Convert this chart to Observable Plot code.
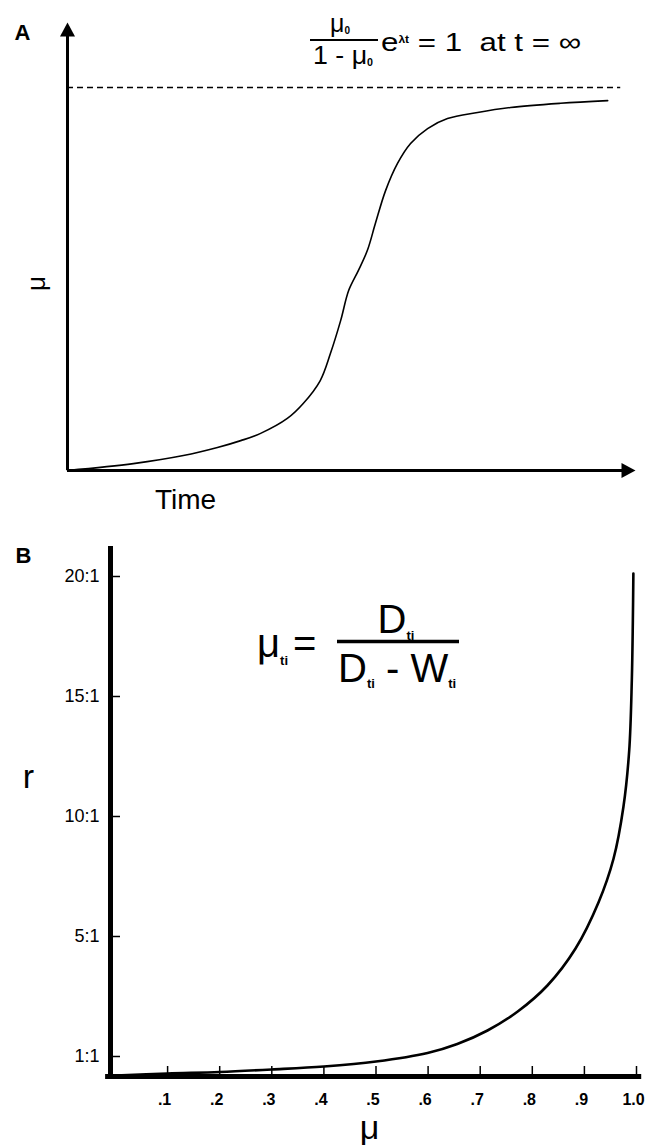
<!DOCTYPE html>
<html><head><meta charset="utf-8">
<script src="https://cdn.jsdelivr.net/npm/d3@7"></script>
<script src="https://cdn.jsdelivr.net/npm/@observablehq/plot@0.6"></script>
<style>
html,body{margin:0;padding:0;background:#fff;}
#chart svg{display:block;}
</style></head><body><div id="chart"></div>
<script>
const FONT = "'Liberation Sans', Arial, Helvetica, sans-serif";
const NS = "http://www.w3.org/2000/svg";

// ---- Panel A: μ versus time (relative units) ----
const timeA = [0, 0.116, 0.204, 0.264, 0.305, 0.340, 0.387, 0.415, 0.445, 0.463, 0.481, 0.495, 0.512, 0.528, 0.542, 0.560, 0.581, 0.604, 0.634, 0.669, 0.722, 0.780, 0.868, 0.951];
const muA   = [0, 0.018, 0.039, 0.060, 0.078, 0.097, 0.136, 0.175, 0.235, 0.306, 0.392, 0.470, 0.522, 0.575, 0.645, 0.731, 0.802, 0.854, 0.893, 0.919, 0.935, 0.948, 0.959, 0.966];
const asymptoteA = 1;
const asymptoteEndA = 0.974;

// ---- Panel B: r versus μ ----
const muB = [0, 0.1, 0.2, 0.3, 0.4, 0.5, 0.599, 0.656, 0.714, 0.772, 0.829, 0.883, 0.927, 0.956, 0.975, 0.986, 0.991, 0.993, 0.994];
const rB  = [0.05, 0.15, 0.225, 0.35, 0.5, 0.75, 1.117, 1.417, 1.867, 2.5, 3.367, 4.6, 6.417, 8.25, 10.417, 12.75, 15.667, 18.167, 20.125];
const xTicksB = [0.1, 0.2, 0.3, 0.4, 0.5, 0.6, 0.7, 0.8, 0.9, 1.0];
const xTickLabelsB = [".1", ".2", ".3", ".4", ".5", ".6", ".7", ".8", ".9", "1.0"];
const rTicksB = [1, 5, 10, 15, 20];
const rTickLabelsB = ["1:1", "5:1", "10:1", "15:1", "20:1"];

const dataA = timeA.map((t, i) => ({t, mu: muA[i]}));
const dataB = muB.map((m, i) => ({mu: m, r: rB[i]}));

// the r axis of the original is drawn with uneven spacing (1:1 sits just above 0)
const rWarp = d3.scaleLinear().domain([0, 1, 5, 20]).range([0, 20, 140, 500]);

function rich(x, y, parts, {anchor = "start", size = 20, weight = "normal", textLength} = {}) {
  return () => {
    const t = document.createElementNS(NS, "text");
    t.setAttribute("x", x); t.setAttribute("y", y);
    t.setAttribute("text-anchor", anchor);
    t.setAttribute("font-family", FONT);
    t.setAttribute("font-size", size);
    t.setAttribute("font-weight", weight);
    t.setAttribute("fill", "black");
    if (textLength) { t.setAttribute("textLength", textLength); t.setAttribute("lengthAdjust", "spacingAndGlyphs"); }
    t.style.whiteSpace = "pre";
    for (const p of parts) {
      const s = document.createElementNS(NS, "tspan");
      s.textContent = p.text;
      if (p.size) s.setAttribute("font-size", p.size);
      if (p.weight) s.setAttribute("font-weight", p.weight);
      if (p.dy) s.setAttribute("dy", p.dy);
      t.appendChild(s);
    }
    return t;
  };
}
function bar(x1, x2, y, w) {
  return () => {
    const l = document.createElementNS(NS, "line");
    l.setAttribute("x1", x1); l.setAttribute("x2", x2);
    l.setAttribute("y1", y); l.setAttribute("y2", y);
    l.setAttribute("stroke", "black"); l.setAttribute("stroke-width", w);
    return l;
  };
}

const AyMax = 1.17;
const plotA = Plot.plot({
  width: 654, height: 540,
  marginLeft: 67, marginRight: 19, marginTop: 22, marginBottom: 70,
  x: {domain: [0, 1], axis: null, label: null},
  y: {domain: [0, AyMax], axis: null, label: null},
  style: {fontFamily: FONT, background: "white", overflow: "visible"},
  marks: [
    Plot.ruleY([asymptoteA], {x1: 0, x2: asymptoteEndA, stroke: "black", strokeWidth: 1.5, strokeDasharray: "6,4"}),
    Plot.line(dataA, {x: "t", y: "mu", curve: "catmull-rom", stroke: "black", strokeWidth: 1.6}),
    Plot.ruleX([0], {y1: 0, y2: AyMax - 0.025, stroke: "black", strokeWidth: 3}),
    Plot.ruleY([0], {x1: 0, x2: 0.98, stroke: "black", strokeWidth: 3}),
    Plot.vector([{x: 0, y: AyMax}], {x: "x", y: "y", length: 14, r: 7.5, rotate: 0, shape: "spike", anchor: "end", fill: "black", stroke: "none"}),
    Plot.vector([{x: 1, y: 0}], {x: "x", y: "y", length: 14, r: 7.5, rotate: 90, shape: "spike", anchor: "end", fill: "black", stroke: "none"}),
    Plot.text(["A"], {frameAnchor: "top-left", dx: -53, dy: 17, fontSize: 22, fontWeight: "bold", textAnchor: "start", lineAnchor: "bottom"}),
    Plot.text(["μ"], {frameAnchor: "top-left", dx: -31, dy: 261, fontSize: 26, rotate: -90, textAnchor: "middle", lineAnchor: "middle"}),
    Plot.text(["Time"], {frameAnchor: "top-left", dx: 118, dy: 486, fontSize: 28, textAnchor: "middle", lineAnchor: "bottom"}),
    rich(340, 32, [{text: "μ"}, {text: "0", size: 10, weight: "bold", dy: 2}], {anchor: "middle", size: 25}),
    bar(310, 378, 40, 2),
    rich(343, 64, [{text: "1 - μ"}, {text: "0", size: 10, weight: "bold", dy: 2}], {anchor: "middle", size: 25, textLength: 60}),
    rich(381, 51, [{text: "e"}, {text: "λt", size: 10, weight: "bold", dy: -8}, {text: " = 1  at t = ∞", dy: 8}], {size: 26, textLength: 200})
  ]
});

const plotB = Plot.plot({
  width: 654, height: 606,
  marginLeft: 115, marginRight: 18, marginTop: 6, marginBottom: 70,
  x: {domain: [0, 1], range: [115, 636], axis: null, label: null},
  y: {transform: rWarp, domain: [0, 530], range: [536, 6], axis: null, label: null},
  style: {fontFamily: FONT, background: "white", overflow: "visible"},
  marks: [
    Plot.line(dataB, {x: "mu", y: "r", curve: "catmull-rom", stroke: "black", strokeWidth: 2.6}),
    Plot.axisX(xTicksB, {anchor: "bottom", tickSize: -10, tickFormat: () => "", strokeWidth: 1.5, label: null}),
    Plot.axisX(xTicksB, {anchor: "bottom", tickSize: 0, tickPadding: 17, tickFormat: d => xTickLabelsB[xTicksB.indexOf(d)], fontSize: 16, fontWeight: "bold", dx: -3, label: null}),
    Plot.axisY(rTicksB, {anchor: "left", tickSize: -8, tickFormat: () => "", strokeWidth: 1.5, dx: -3, label: null}),
    Plot.axisY(rTicksB, {anchor: "left", tickSize: 0, tickPadding: 16, tickFormat: d => rTickLabelsB[rTicksB.indexOf(d)], fontSize: 18, label: null}),
    Plot.ruleX([0], {y1: 0, y2: 21.25, stroke: "black", strokeWidth: 5, dx: -5}),
    Plot.ruleY([0], {x1: -0.019, x2: 1.01, stroke: "black", strokeWidth: 5}),
    Plot.text(["B"], {frameAnchor: "top-left", dx: -100, dy: 16, fontSize: 22, fontWeight: "bold", textAnchor: "start", lineAnchor: "bottom"}),
    Plot.text(["r"], {frameAnchor: "top-left", dx: -87, dy: 241, fontSize: 34, textAnchor: "middle", lineAnchor: "bottom"}),
    Plot.text(["μ"], {frameAnchor: "top-left", dx: 254, dy: 592, fontSize: 34, textAnchor: "middle", lineAnchor: "bottom"}),
    rich(257, 117, [{text: "μ"}, {text: "ti", size: 13, weight: "bold", dy: 8}], {size: 40}),
    rich(293, 117, [{text: "="}], {size: 40}),
    bar(337, 459, 101.5, 3.5),
    rich(396, 93, [{text: "D"}, {text: "ti", size: 13, weight: "bold", dy: 7}], {anchor: "middle", size: 40}),
    rich(338, 142, [{text: "D"}, {text: "ti", size: 13, weight: "bold", dy: 6}, {text: " - W", dy: -6}, {text: "ti", size: 13, weight: "bold", dy: 6}], {size: 40})
  ]
});

document.getElementById("chart").append(plotA, plotB);
</script></body></html>
